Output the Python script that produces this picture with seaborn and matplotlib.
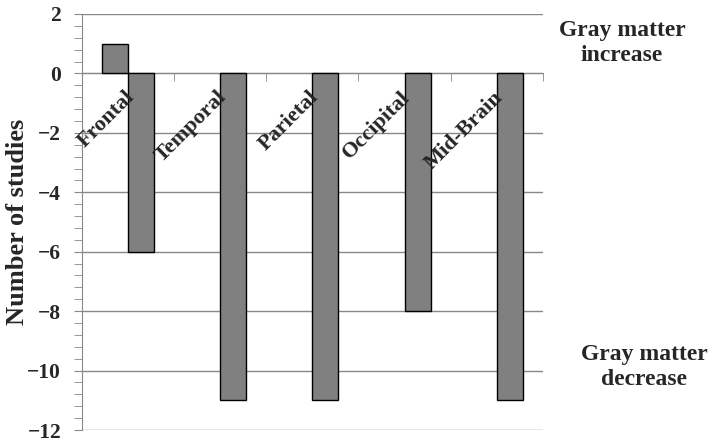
import pandas as pd
import numpy as np
import matplotlib
matplotlib.use('Agg')
import matplotlib.pyplot as plt
import matplotlib.transforms as mtransforms
from matplotlib.ticker import MultipleLocator, FixedLocator
import seaborn as sns

# data
regions = ['Frontal', 'Temporal', 'Parietal', 'Occipital', 'Mid-Brain']
increase = [1, 0, 0, 0, 0]
decrease = [-6, -11, -11, -8, -11]
y_ticks = [2, 0, -2, -4, -6, -8, -10, -12]

df = pd.DataFrame({'region': regions * 2,
                   'count': increase + decrease,
                   'change': ['increase'] * 5 + ['decrease'] * 5})
df = df[df['count'] != 0]

sns.set_style('white')
plt.rcParams['font.family'] = ['Liberation Serif', 'DejaVu Serif']
plt.rcParams['font.weight'] = 'bold'
plt.rcParams['axes.unicode_minus'] = True

fig = plt.figure(figsize=(7.17, 4.47), dpi=100)
ax = fig.add_axes([0.1144, 0.038, 0.757 - 0.1144, 0.9687 - 0.038])

sns.barplot(data=df, x='region', y='count', hue='change', order=regions,
            hue_order=['increase', 'decrease'],
            palette=['#808080', '#808080'], width=0.566, gap=0,
            edgecolor='black', linewidth=1, legend=False, ax=ax, zorder=3)

ax.set_xlim(-0.5, 4.5)
ax.set_ylim(-12, 2)
ax.set_yticks(y_ticks)
ax.yaxis.set_minor_locator(MultipleLocator(0.4))
ax.yaxis.grid(True, color='#888888', linewidth=1)
ax.set_axisbelow(True)
# category labels sit over the bars
ax.xaxis.set_zorder(4)

for side in ['top', 'right']:
    ax.spines[side].set_visible(False)
ax.spines['left'].set_color('#888888')
ax.spines['bottom'].set_color('#888888')
ax.spines['bottom'].set_position(('data', 0))

ax.tick_params(axis='y', which='both', left=True, direction='out', length=6,
               color='#888888', labelsize=15.5, pad=9)
ax.tick_params(axis='x', which='major', bottom=True, length=0, pad=10)
ax.xaxis.set_minor_locator(FixedLocator(np.arange(-0.5, 5, 1)))
ax.tick_params(axis='x', which='minor', bottom=True, direction='out',
               length=6, color='#888888')

ax.set_xticks(range(len(regions)))
ax.set_xticklabels(regions, rotation=45, ha='right', va='top',
                   rotation_mode='anchor', fontsize=16, fontweight='bold')
shift = mtransforms.ScaledTranslation(-4 / 100, 0, fig.dpi_scale_trans)
for lab in ax.get_xticklabels():
    lab.set_transform(lab.get_transform() + shift)
for lab in ax.get_yticklabels():
    lab.set_fontweight('bold')

ax.set_xlabel('')
ax.set_ylabel('Number of studies', fontsize=19, fontweight='bold')
ax.yaxis.set_label_coords(-0.115, 0.5)

fig.text(622 / 717, 1 - 43 / 447, 'Gray matter\nincrease', ha='center',
         va='center', fontsize=17, fontweight='bold', linespacing=1.3)
fig.text(644 / 717, 1 - 367 / 447, 'Gray matter\ndecrease', ha='center',
         va='center', fontsize=17, fontweight='bold', linespacing=1.3)

fig.savefig('out.png', dpi=100)
